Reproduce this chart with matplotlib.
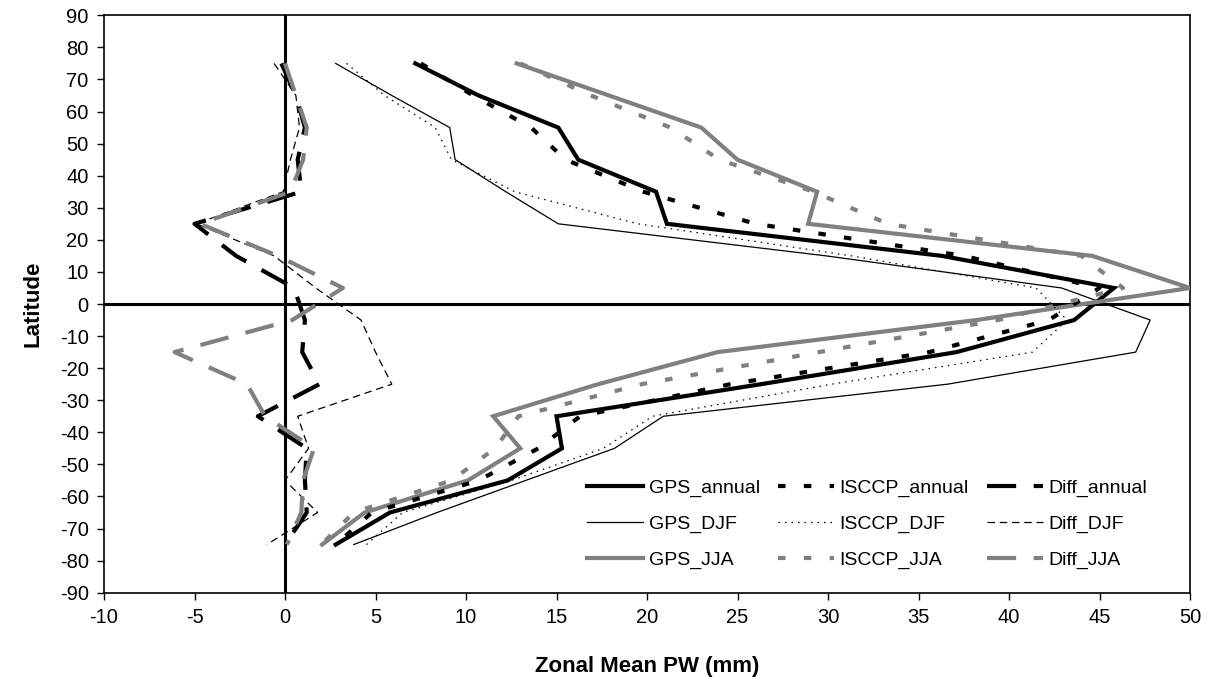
import matplotlib
matplotlib.use("Agg")
import matplotlib.pyplot as plt

plt.rcParams['font.family'] = ['Liberation Sans', 'DejaVu Sans']

lat = [75, 65, 55, 45, 35, 25, 15, 5, -5, -15, -25, -35, -45, -55, -65, -75]

gps_annual = [7.2, 10.7, 15.1, 16.2, 20.5, 21.1, 36.3, 45.8, 43.6, 37.1, 26.3, 15.0, 15.3, 12.3, 5.8, 2.8]
isccp_annual = [7.5, 10.4, 13.6, 15.5, 19.8, 26.0, 37.5, 45.0, 42.2, 35.6, 24.6, 16.3, 14.0, 10.7, 4.8, 2.8]
diff_annual = [-0.2, 0.6, 1.1, 0.7, 0.9, -5.0, -2.7, 0.5, 1.1, 0.95, 1.9, -1.5, 1.2, 1.1, 1.2, 0.0]

gps_djf = [2.8, 5.9, 9.1, 9.4, 12.2, 15.1, 29.9, 42.9, 47.8, 47.0, 36.6, 20.9, 18.2, 13.3, 8.4, 3.8]
isccp_djf = [3.4, 5.5, 8.3, 9.2, 12.7, 19.5, 31.3, 41.5, 43.2, 41.3, 30.2, 20.3, 17.6, 12.5, 6.5, 4.5]
diff_djf = [-0.6, 0.6, 0.8, 0.3, -0.1, -4.9, -0.6, 1.7, 4.2, 5.0, 5.9, 0.7, 1.3, 0.0, 1.8, -1.0]

gps_jja = [12.8, 17.9, 23.0, 25.0, 29.4, 28.9, 44.6, 50.0, 38.2, 23.9, 17.3, 11.5, 13.0, 10.1, 4.4, 2.05]
isccp_jja = [13.0, 16.9, 21.3, 24.0, 29.2, 33.3, 44.0, 46.3, 39.4, 29.5, 19.7, 12.9, 11.6, 9.2, 3.8, 2.0]
diff_jja = [0.0, 0.6, 1.2, 1.0, 0.3, -4.7, -0.4, 3.2, 0.4, -6.1, -2.1, -1.1, 1.6, 1.0, 0.9, 0.1]

x_ticks = list(range(-10, 51, 5))
y_ticks = list(range(-90, 91, 10))

GRAY = '#808080'
THICK = 3.0
THIN = 0.9

fig = plt.figure(figsize=(12.08, 6.84), dpi=100)
ax = fig.add_axes([0.0861, 0.1335, 0.8990, 0.8441])

ax.axhline(0, color='black', lw=2.2, zorder=1)
ax.axvline(0, color='black', lw=2.2, zorder=1)

short_dash = (0, (1.8, 4.4))
long_dash = (0, (7.0, 4.2))
dot = (0, (1.2, 4.0))
thin_dash = (0, (6.0, 3.8))

h = {}
h['GPS_annual'], = ax.plot(gps_annual, lat, color='black', lw=THICK, solid_joinstyle='miter', zorder=3)
h['GPS_DJF'], = ax.plot(gps_djf, lat, color='black', lw=THIN, zorder=3)
h['GPS_JJA'], = ax.plot(gps_jja, lat, color=GRAY, lw=THICK, solid_joinstyle='miter', zorder=3)
h['ISCCP_annual'], = ax.plot(isccp_annual, lat, color='black', lw=THICK, linestyle=short_dash, dash_capstyle='butt', zorder=3)
h['ISCCP_DJF'], = ax.plot(isccp_djf, lat, color='black', lw=THIN, linestyle=dot, zorder=3)
h['ISCCP_JJA'], = ax.plot(isccp_jja, lat, color=GRAY, lw=THICK, linestyle=short_dash, dash_capstyle='butt', zorder=3)
h['Diff_annual'], = ax.plot(diff_annual, lat, color='black', lw=THICK, linestyle=long_dash, dash_capstyle='butt', zorder=3)
h['Diff_DJF'], = ax.plot(diff_djf, lat, color='black', lw=THIN, linestyle=thin_dash, zorder=3)
h['Diff_JJA'], = ax.plot(diff_jja, lat, color=GRAY, lw=THICK, linestyle=long_dash, dash_capstyle='butt', zorder=3)

ax.set_xlim(-10, 50)
ax.set_ylim(-90, 90)
ax.set_xticks(x_ticks)
ax.set_yticks(y_ticks)
ax.set_xticklabels([str(v) for v in x_ticks])
ax.set_yticklabels([str(v) for v in y_ticks])
ax.tick_params(axis='both', direction='out', length=5, width=1, labelsize=14.5, pad=6, colors='black')
for s in ax.spines.values():
    s.set_linewidth(1.2)
    s.set_color('black')

ax.set_xlabel('Zonal Mean PW (mm)', fontsize=16, fontweight='bold', labelpad=21)
ax.set_ylabel('Latitude', fontsize=16, fontweight='bold', labelpad=12)

order = ['GPS_annual', 'GPS_DJF', 'GPS_JJA', 'ISCCP_annual', 'ISCCP_DJF', 'ISCCP_JJA',
         'Diff_annual', 'Diff_DJF', 'Diff_JJA']
leg = ax.legend([h[k] for k in order], order, ncol=3, loc='upper left',
                bbox_to_anchor=(0.445, 0.197), frameon=False, fontsize=14,
                handlelength=2.85, handletextpad=0.3, columnspacing=0.95,
                labelspacing=0.95, borderpad=0, borderaxespad=0)

fig.savefig('out.png', dpi=100)
